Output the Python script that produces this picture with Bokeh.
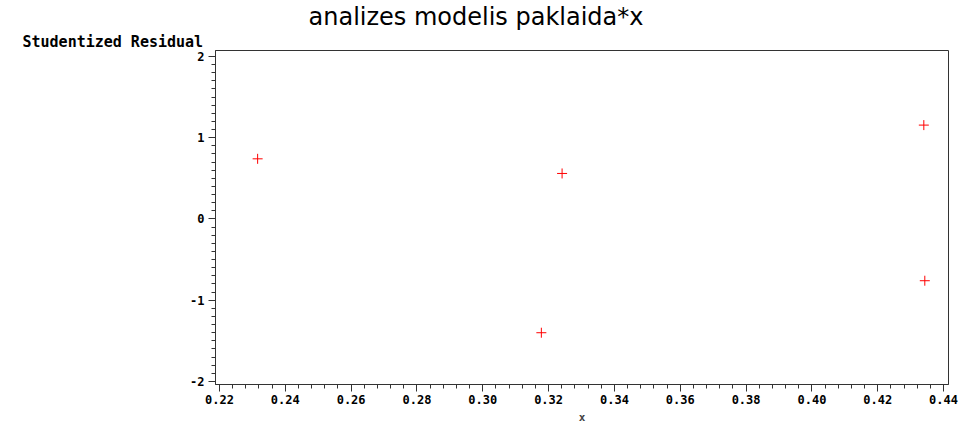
from bokeh.plotting import figure
from bokeh.models import Range1d, SingleIntervalTicker, PrintfTickFormatter, Title, ColumnDataSource
from bokeh.embed import file_html
from bokeh.resources import INLINE

# data
x_vals = [0.2316, 0.3178, 0.3241, 0.4340, 0.4343]
resid = [0.74, -1.40, 0.56, 1.155, -0.76]

title_text = "analizes modelis paklaida*x"
y_label = "Studentized Residual"
x_label = "x"

src = ColumnDataSource(dict(x=x_vals, r=resid))

p = figure(width=962, height=426, output_backend="svg", toolbar_location=None,
           x_range=Range1d(0.2188, 0.4415), y_range=Range1d(-2.037, 2.073),
           min_border_left=215, min_border_right=14, min_border_top=10, min_border_bottom=10)
p.title.visible = False
p.grid.visible = False
p.outline_line_color = "#333333"
p.outline_line_width = 1
p.background_fill_color = "white"

p.scatter("x", "r", source=src, marker="cross", size=10, line_color="red", line_width=1)

mono = "DejaVu Sans Mono"
p.xaxis.ticker = SingleIntervalTicker(interval=0.02, num_minor_ticks=5)
p.yaxis.ticker = SingleIntervalTicker(interval=1, num_minor_ticks=10)
p.xaxis.formatter = PrintfTickFormatter(format="%.2f")
p.yaxis.formatter = PrintfTickFormatter(format="%d")
for ax in (p.xaxis, p.yaxis):
    ax.major_label_text_font = mono
    ax.major_label_text_font_style = "bold"
    ax.major_label_text_font_size = "12px"
    ax.major_label_text_color = "black"
    ax.axis_line_color = "#333333"
    ax.major_tick_line_color = "#333333"
    ax.minor_tick_line_color = "#333333"
    ax.major_tick_out = 7
    ax.major_tick_in = 0
    ax.minor_tick_out = 4
    ax.minor_tick_in = 0
p.xaxis.major_label_standoff = 3
p.yaxis.major_label_standoff = 4

p.xaxis.axis_label = x_label
p.xaxis.axis_label_text_font = mono
p.xaxis.axis_label_text_font_style = "bold"
p.xaxis.axis_label_text_font_size = "11px"
p.xaxis.axis_label_standoff = 4

ylab = Title(text=y_label, align="left", offset=-193, text_font=mono, text_font_style="bold",
             text_font_size="15px", text_color="black", standoff=0, text_line_height=0.85)
main = Title(text=title_text, align="left", offset=93, text_font="DejaVu Sans",
             text_font_size="24px", text_font_style="normal", text_color="black", standoff=0)
p.add_layout(ylab, "above")
p.add_layout(main, "above")

open("out.html", "w").write(file_html(p, INLINE))
